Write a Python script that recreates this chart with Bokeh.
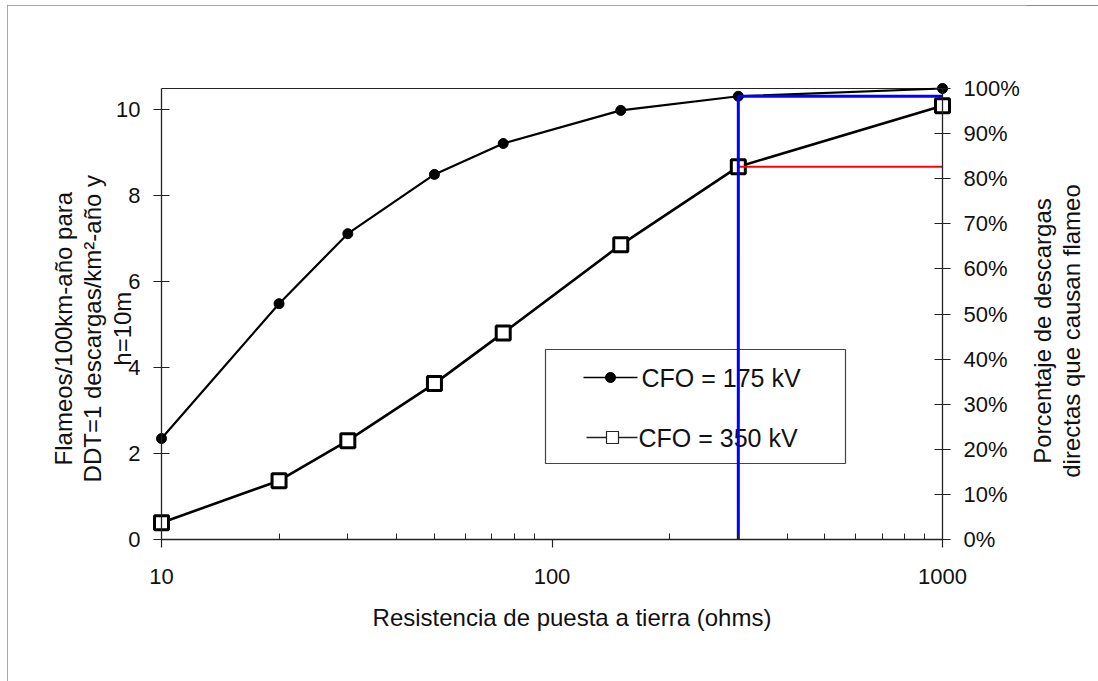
import math
from bokeh.plotting import figure
from bokeh.models import (Range1d, LinearAxis, LogAxis, FixedTicker,
                          PrintfTickFormatter, Div, Row)
from bokeh.core.properties import value
from bokeh.embed import file_html
from bokeh.resources import INLINE

# ---------------- data ----------------
resistance = [10, 20, 30, 50, 75, 150, 300, 1000]
flashes_cfo175 = [2.35, 5.49, 7.12, 8.50, 9.22, 9.99, 10.32, 10.50]
flashes_cfo350 = [0.39, 1.37, 2.30, 3.63, 4.81, 6.86, 8.68, 10.10]
series_labels = ["CFO = 175 kV", "CFO = 350 kV"]

x_ticks = [10, 100, 1000]
x_minor_ticks = [20, 30, 40, 50, 60, 70, 80, 90, 200, 300, 400, 500, 600, 700, 800, 900]
y_ticks = [0, 2, 4, 6, 8, 10]
pct_ticks = [0, 10, 20, 30, 40, 50, 60, 70, 80, 90, 100]
marker_resistance = 300

x_title = "Resistencia de puesta a tierra (ohms)"
y_title_lines = ["Flameos/100km-año para", "DDT=1 descargas/km²-año y", "h=10m"]
y2_title_lines = ["Porcentaje de descargas", "directas que causan flameo"]

# ---------------- layout ----------------
FONT = "Liberation Sans"
INK = "#111111"
AXC = "#222222"
Y_TOP = 10.5
OX, OY = 7, 5             # page position of the chart
TOTAL_W, H = 1091, 676
AX_L, AX_R = 161, 942     # page px of x=10 and x=1000
AX_T, AX_B = 88, 539      # page px of y=Y_TOP and y=0
PAD_L, PAD_R, PAD_T, PAD_B = 14, 14, 14, 10   # frame padding so markers are not clipped
RIGHT_BORDER = 70
W = AX_R + PAD_R + RIGHT_BORDER - OX          # figure width
DIV_W = TOTAL_W - W
Y2_TITLE_CX, TITLE_CY = 1051.5, 326           # page centre of the right title block
DEC = (AX_R - AX_L) / 2.0
PPU = (AX_B - AX_T) / Y_TOP
NBSP = "\u00a0"


def px2x(px):
    return 10 ** (1 + (px - AX_L) / DEC)


def py2y(py):
    return Y_TOP * (AX_B - py) / (AX_B - AX_T)


y_lo, y_hi = -PAD_B / PPU, Y_TOP + PAD_T / PPU
p = figure(
    width=W, height=H, x_axis_type="log",
    x_range=Range1d(10 ** (1 - PAD_L / DEC), 10 ** (3 + PAD_R / DEC)),
    y_range=Range1d(y_lo, y_hi),
    output_backend="svg", toolbar_location=None, title=None,
    min_border_left=AX_L - PAD_L - OX,
    min_border_right=RIGHT_BORDER,
    min_border_top=AX_T - PAD_T - OY,
    min_border_bottom=OY + H - (AX_B + PAD_B),
    background_fill_color="white", border_fill_color="white",
    outline_line_color=None,
)
p.xgrid.visible = False
p.ygrid.visible = False
p.extra_y_ranges = {"pct": Range1d(y_lo * 100 / Y_TOP, y_hi * 100 / Y_TOP)}


def label_only(ax, standoff):
    ax.axis_line_color = None
    ax.major_tick_line_color = None
    ax.minor_tick_line_color = None
    ax.major_tick_in = 0
    ax.major_tick_out = 0
    ax.minor_tick_in = 0
    ax.minor_tick_out = 0
    ax.major_label_standoff = standoff
    ax.major_label_text_font = FONT
    ax.major_label_text_font_size = "22px"
    ax.major_label_text_color = INK
    ax.axis_label_text_font = FONT
    ax.axis_label_text_font_size = "24px"
    ax.axis_label_text_font_style = "normal"
    ax.axis_label_text_color = INK
    ax.axis_label_text_line_height = 1.1


def line_only(ax):
    ax.axis_line_color = AXC
    ax.axis_line_width = 1.3
    ax.major_tick_line_color = AXC
    ax.major_tick_line_width = 1.2
    ax.minor_tick_line_color = AXC
    ax.major_label_text_color = None
    ax.major_label_text_font_size = "1px"


# ---- tick-label axes at the frame edges (standard placement) ----
xa = p.xaxis[0]
label_only(xa, 19)
xa.ticker = FixedTicker(ticks=x_ticks)
xa.formatter = PrintfTickFormatter(format="%d")
xa.axis_label = NBSP * 6 + x_title
xa.axis_label_standoff = 17

ya = p.yaxis[0]
label_only(ya, PAD_L - 8 + 1)
ya.ticker = FixedTicker(ticks=y_ticks)
ya.axis_label = "\n".join(t + NBSP * 5 for t in y_title_lines)
ya.axis_label_standoff = -23

ra = LinearAxis(y_range_name="pct", ticker=FixedTicker(ticks=pct_ticks),
                formatter=PrintfTickFormatter(format="%d%%"))
label_only(ra, PAD_R - 8 + 1)
p.add_layout(ra, "right")

# ---- axis lines and ticks at the data edges (fixed locations) ----
fx = LogAxis(fixed_location=0, bounds=(x_ticks[0], x_ticks[-1]),
             ticker=FixedTicker(ticks=x_ticks, minor_ticks=x_minor_ticks))
line_only(fx)
fx.major_tick_in, fx.major_tick_out = 0, 8
fx.minor_tick_in, fx.minor_tick_out = 6, 0
p.add_layout(fx, "below")

fy = LinearAxis(fixed_location=x_ticks[0], bounds=(0, Y_TOP),
                ticker=FixedTicker(ticks=y_ticks))
line_only(fy)
fy.major_tick_in, fy.major_tick_out = 8, 8
fy.minor_tick_line_color = None
p.add_layout(fy, "left")

fr = LinearAxis(y_range_name="pct", fixed_location=x_ticks[-1], bounds=(0, 100),
                ticker=FixedTicker(ticks=pct_ticks))
line_only(fr)
fr.major_tick_in, fr.major_tick_out = 8, 8
fr.minor_tick_line_color = None
p.add_layout(fr, "right")

# frame top line
p.segment(x0=[x_ticks[0]], x1=[x_ticks[-1]], y0=[Y_TOP], y1=[Y_TOP],
          line_color=AXC, line_width=1.2)

# ---------------- legend box (drawn under the blue line) ----------------
p.quad(left=[px2x(545)], right=[px2x(845)], top=[py2y(349)], bottom=[py2y(463)],
       fill_color="white", line_color="#444444", line_width=1.2)
p.line([px2x(583), px2x(637)], [py2y(377), py2y(377)], line_color="black", line_width=1.3)
p.scatter([px2x(610)], [py2y(377)], marker="circle", size=10,
          fill_color="black", line_color="black")
p.line([px2x(586), px2x(637)], [py2y(437), py2y(437)], line_color=AXC, line_width=1.3)
p.scatter([px2x(612)], [py2y(437)], marker="square", size=12,
          fill_color="white", line_color=AXC, line_width=1.2)
p.text(x=[px2x(641), px2x(638)], y=[py2y(377), py2y(437)], text=series_labels,
       text_font=value(FONT), text_font_size="25px", text_color=INK,
       text_align="left", text_baseline="middle")

# ---------------- series ----------------
p.line(resistance, flashes_cfo175, line_color="black", line_width=2.2)
p.line(resistance, flashes_cfo350, line_color="black", line_width=2.6)
p.scatter(resistance, flashes_cfo175, marker="circle", size=10,
          fill_color="black", line_color="black")
p.scatter(resistance, flashes_cfo350, marker="square", size=14,
          fill_color="white", line_color="black", line_width=3)

# ---------------- reading lines ----------------
i_mark = resistance.index(marker_resistance)
red_level = flashes_cfo350[i_mark]
blue_level = flashes_cfo175[i_mark]
p.line([marker_resistance, x_ticks[-1]], [red_level, red_level],
       line_color="#ff0000", line_width=2)
p.line([marker_resistance, marker_resistance, x_ticks[-1]], [0, blue_level, blue_level],
       line_color="#0000ff", line_width=3)

# ---------------- right-hand axis title (reads bottom to top) ----------------
box_w = int(round(2 * (Y2_TITLE_CX - (OX + W))))
box_h = int(round(2 * (TITLE_CY - OY)))
title_html = (
    f'<div style="width:{box_w}px;height:{box_h}px;display:flex;'
    'align-items:center;justify-content:center;">'
    '<div style="flex-shrink:0;transform:rotate(-90deg);white-space:nowrap;'
    f"text-align:center;font-family:'{FONT}';font-size:24px;line-height:29px;"
    f'color:{INK};">' + "<br>".join(y2_title_lines) + "</div></div>"
)
y2_title = Div(text=title_html, width=DIV_W, height=H)

chart = Row(children=[p, y2_title], spacing=0)
chart.styles = {"margin-left": f"{OX}px", "margin-top": f"{OY}px",
                "outline": "1.5px solid #8c8c8c", "outline-offset": "-1.5px"}

open("out.html", "w").write(file_html(chart, INLINE))
